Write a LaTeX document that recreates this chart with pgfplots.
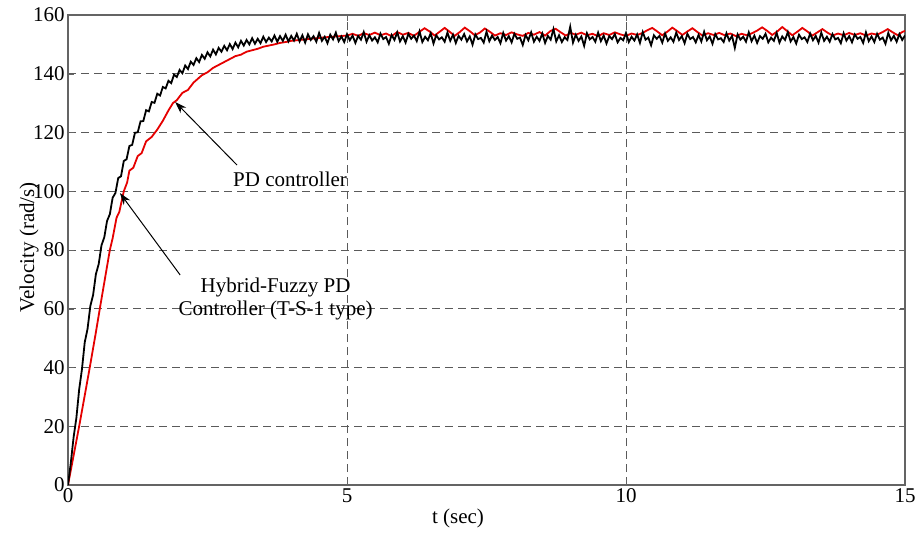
\documentclass[border=0pt]{standalone}
\usepackage{fontspec}
\setmainfont{Liberation Serif}
\usepackage{pgfplots}
\pgfplotsset{compat=1.18}
\usetikzlibrary{arrows.meta}
\definecolor{axgray}{RGB}{100,100,100}
\definecolor{gridgray}{RGB}{90,90,90}
\begin{document}
\begin{tikzpicture}
\begin{axis}[
  scale only axis,
  width=418.5pt, height=235pt,
  xmin=0, xmax=15, ymin=0, ymax=160,
  xtick={0,5,10,15}, ytick={0,20,...,160},
  grid=major,
  major grid style={dashed, gridgray, line width=0.5pt, dash pattern=on 4pt off 2.5pt},
  axis line style={axgray, line width=0.6pt},
  tick align=inside, major tick length=3pt,
  tick style={axgray},
  /pgf/number format/assume math mode=true,
  tick label style={font=\fontsize{10.5}{12}\selectfont, black},
  yticklabel style={inner sep=1.5pt},
  xticklabel style={inner sep=1.5pt},
  xlabel={t (sec)}, ylabel={Velocity (rad/s)},
  label style={font=\fontsize{10.5}{12}\selectfont},
  xlabel style={at={(axis description cs:0.466,0)}, anchor=center, yshift=-16.5pt},
  ylabel style={at={([xshift=-19.5pt]axis description cs:0,0.506)}, anchor=center},
]
% PD controller (red)
\addplot[red!90!black, line width=0.9pt] table {
t v
0 0
0.1 10
0.2 20
0.3 30.5
0.39 40
0.5 52
0.57 60
0.66 70
0.75 80
0.8 84
0.87 91
0.92 93
1.0 100
1.06 103
1.1 107
1.17 108
1.25 112
1.32 113
1.4 117
1.5 118.5
1.6 121
1.7 124
1.8 127.5
1.88 130
1.95 131
2.05 133.5
2.15 134.5
2.25 137
2.4 139.5
2.5 140.5
2.6 142
2.7 143
2.8 144
2.9 145
3.0 146
3.1 146.5
3.2 147.5
3.3 148
3.4 148.5
3.5 149.2
3.6 149.6
3.7 150.0
3.8 150.5
3.9 150.8
4.0 151.2
4.2 151.6
4.4 152.0
4.6 152.4
4.8 152.7
5.0 153.0
5.1 153.6
5.2 152.9
5.3 153.8
5.4 153.2
5.5 154.0
5.6 153.1
5.7 153.7
5.8 152.8
5.9 154.2
6.0 153.3
6.1 153.9
6.2 152.9
6.3 154.3
6.39 155.5
6.48 154.4
6.57 153.0
6.66 154.3
6.75 155.6
6.84 154.3
6.93 152.9
7.02 154.2
7.11 155.7
7.2 154.5
7.29 153.1
7.38 154.0
7.47 155.4
7.56 154.3
7.65 153.0
7.75 153.8
7.85 153.2
7.95 154.1
8.05 153.4
8.15 152.9
8.25 153.9
8.35 153.3
8.45 154.2
8.55 153.0
8.65 154.6
8.74 155.3
8.83 154.1
8.92 153.0
9.01 153.9
9.1 153.3
9.2 154.0
9.3 153.1
9.4 153.6
9.5 152.8
9.6 153.8
9.7 153.2
9.8 154.1
9.9 153.4
10.0 152.9
10.1 153.7
10.2 153.2
10.3 153.9
10.38 154.8
10.47 155.6
10.56 154.4
10.65 153.1
10.74 154.3
10.83 155.7
10.92 154.5
11.01 153.2
11.1 154.4
11.19 155.5
11.28 154.2
11.37 153.0
11.47 153.8
11.57 153.2
11.67 153.9
11.77 153.1
11.87 153.7
11.97 152.8
12.07 153.6
12.17 153.1
12.27 153.9
12.35 154.7
12.44 155.8
12.53 154.6
12.62 153.2
12.71 154.4
12.8 155.9
12.89 154.5
12.98 153.1
13.07 154.3
13.16 155.6
13.25 154.4
13.34 153.0
13.43 154.1
13.52 155.2
13.61 154.0
13.7 153.0
13.8 153.7
13.9 153.1
14.0 153.9
14.1 153.2
14.2 153.8
14.3 153.0
14.4 153.7
14.5 153.3
14.6 154.2
14.69 155.2
14.78 154.1
14.87 153.1
14.95 154.2
15.0 154.6
};
% Hybrid-Fuzzy PD (black)
\addplot[black, line width=0.9pt] table {
t v
0 0
0.05 7.5
0.1 16.2
0.15 22.8
0.2 32.5
0.25 39.4
0.3 48.6
0.35 53.1
0.4 60.9
0.45 64.7
0.5 71.8
0.55 75.2
0.6 81.6
0.65 84.3
0.7 89.9
0.75 92.2
0.8 97.8
0.85 99.4
0.9 104.5
0.95 105.1
1.0 110.3
1.05 110.9
1.1 115.4
1.15 115.8
1.2 119.9
1.25 120.1
1.3 123.8
1.35 123.9
1.4 127.6
1.45 127.2
1.5 130.4
1.55 130.1
1.6 133.2
1.65 132.6
1.7 135.5
1.75 135.0
1.8 137.6
1.85 136.8
1.9 139.7
1.95 138.9
2.0 141.3
2.05 140.2
2.1 142.8
2.15 141.6
2.2 144.1
2.25 143.0
2.3 145.3
2.35 144.0
2.4 146.4
2.45 145.1
2.5 147.3
2.55 145.9
2.6 148.2
2.65 146.6
2.7 148.8
2.75 147.5
2.8 149.5
2.85 148.0
2.9 150.1
2.95 148.4
3.0 150.6
3.05 149.0
3.1 151.2
3.15 149.6
3.2 151.5
3.25 150.0
3.3 152.1
3.35 150.2
3.4 151.9
3.45 150.4
3.5 152.6
3.55 150.8
3.6 152.3
3.65 151.0
3.7 153.0
3.75 150.9
3.8 152.8
3.85 151.2
3.9 153.3
3.95 151.0
4.0 152.9
4.05 151.3
4.1 153.6
4.15 151.0
4.2 153.1
4.25 150.6
4.3 153.4
4.35 151.5
4.4 152.8
4.45 150.9
4.5 153.9
4.55 151.2
4.6 152.6
4.65 150.4
4.7 153.3
4.75 151.7
4.8 154.0
4.85 151.1
4.9 152.7
4.95 150.8
5.0 153.5
5.05 151.4
5.1 153.0
5.15 150.5
5.2 152.9
5.25 151.6
5.3 154.2
5.35 150.9
5.4 153.1
5.45 151.3
5.5 152.4
5.55 150.7
5.6 153.7
5.65 151.8
5.7 152.5
5.75 150.2
5.8 153.2
5.85 151.5
5.9 154.1
5.95 151.0
6.0 152.8
6.05 150.6
6.1 153.6
6.15 151.9
6.2 153.0
6.25 151.1
6.3 154.4
6.35 150.8
6.4 152.6
6.45 151.4
6.5 153.8
6.55 150.3
6.6 153.1
6.65 151.7
6.7 152.4
6.75 150.9
6.8 154.0
6.85 151.2
6.9 153.3
6.95 150.5
7.0 152.9
7.05 151.6
7.1 153.5
7.15 151.0
7.2 152.7
7.25 149.9
7.3 153.4
7.35 151.8
7.4 152.2
7.45 150.6
7.5 154.3
7.55 151.1
7.6 153.0
7.65 151.5
7.7 152.5
7.75 150.4
7.8 153.9
7.85 151.3
7.9 152.8
7.95 150.7
8.0 153.6
8.05 151.9
8.1 152.3
8.15 149.8
8.2 153.2
8.25 151.4
8.3 154.1
8.35 150.9
8.4 152.6
8.45 151.2
8.5 153.7
8.55 150.5
8.6 152.9
8.65 151.6
8.7 155.2
8.75 151.0
8.8 153.1
8.85 150.8
8.9 152.4
8.95 151.5
9.0 156.0
9.05 150.6
9.1 153.3
9.15 151.2
9.2 152.7
9.25 149.5
9.3 153.8
9.35 151.7
9.4 152.5
9.45 150.9
9.5 154.0
9.55 151.1
9.6 153.0
9.65 150.3
9.7 152.8
9.75 151.8
9.8 153.5
9.85 150.7
9.9 152.2
9.95 151.4
10.0 153.9
10.05 150.8
10.1 152.6
10.15 151.3
10.2 153.4
10.25 150.5
10.3 154.2
10.35 151.6
10.4 152.3
10.45 149.7
10.5 153.1
10.55 151.9
10.6 152.9
10.65 150.6
10.7 153.7
10.75 151.2
10.8 152.4
10.85 150.9
10.9 154.0
10.95 151.5
11.0 152.8
11.05 150.4
11.1 153.6
11.15 151.8
11.2 152.5
11.25 150.7
11.3 153.2
11.35 151.0
11.4 154.3
11.45 151.4
11.5 152.7
11.55 150.2
11.6 153.5
11.65 151.7
11.7 152.1
11.75 150.8
11.8 153.8
11.85 151.3
11.9 152.9
11.95 148.8
12.0 153.4
12.05 151.6
12.1 152.6
12.15 150.9
12.2 154.1
12.25 151.1
12.3 153.0
12.35 150.5
12.4 152.8
12.45 151.9
12.5 153.6
12.55 150.7
12.6 152.3
12.65 151.2
12.7 153.9
12.75 150.6
12.8 152.7
12.85 151.5
12.9 154.2
12.95 151.0
13.0 152.5
13.05 150.3
13.1 153.3
13.15 151.8
13.2 152.4
13.25 150.8
13.3 153.7
13.35 151.4
13.4 152.9
13.45 150.6
13.5 154.0
13.55 151.2
13.6 152.6
13.65 150.9
13.7 153.5
13.75 151.7
13.8 152.2
13.85 150.4
13.9 153.8
13.95 151.3
14.0 152.8
14.05 150.7
14.1 153.4
14.15 151.9
14.2 152.5
14.25 150.5
14.3 154.1
14.35 151.1
14.4 152.7
14.45 150.8
14.5 153.6
14.55 151.6
14.6 152.3
14.65 150.2
14.7 153.9
14.75 151.4
14.8 152.9
14.85 150.9
14.9 153.5
14.95 151.5
15.0 153.0
};
\draw[-{Stealth[length=6pt,width=4pt]}, line width=0.5pt] (axis cs:3.03,108.9) -- (axis cs:1.92,130.4);
\draw[-{Stealth[length=6pt,width=4pt]}, line width=0.5pt] (axis cs:2.01,71.5) -- (axis cs:0.93,99.4);
\node[font=\fontsize{10.5}{12}\selectfont] at (axis cs:3.98,104.2) {PD controller};
\node[font=\fontsize{10.5}{12}\selectfont, align=center, inner sep=0pt] at (axis cs:3.72,63.3) {Hybrid-Fuzzy PD\\[-0.5pt]Controller (T-S-1 type)};
\end{axis}
\pgfresetboundingbox
\path (current axis.south west) ++(-34pt,-23.5pt) coordinate (bl);
\path (current axis.north east) ++(7pt,7.5pt) coordinate (tr);
\path[use as bounding box] (bl) rectangle (tr);
\end{tikzpicture}
\end{document}
